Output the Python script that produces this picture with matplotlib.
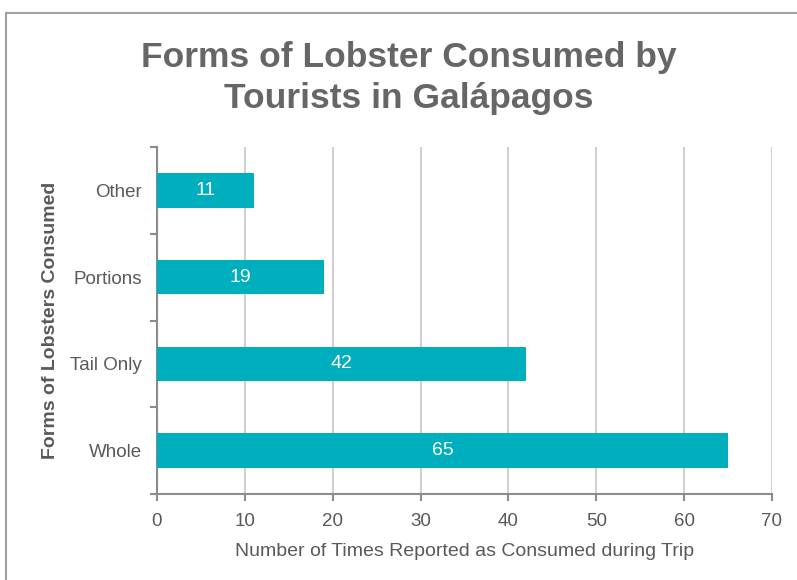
import matplotlib
matplotlib.use("Agg")
import matplotlib.pyplot as plt
from matplotlib.patches import Rectangle

plt.rcParams['font.family'] = ['Liberation Sans', 'DejaVu Sans']

categories = ["Whole", "Tail Only", "Portions", "Other"]
counts = [65, 42, 19, 11]
xticks = [0, 10, 20, 30, 40, 50, 60, 70]

title = "Forms of Lobster Consumed by\nTourists in Galápagos"
xlabel = "Number of Times Reported as Consumed during Trip"
ylabel = "Forms of Lobsters Consumed"

bar_color = "#00AFBE"
text_color = "#595959"
grid_color = "#D0D0D0"
axis_color = "#8C8C8C"

fig = plt.figure(figsize=(7.97, 5.80), dpi=100)
fig.patch.set_facecolor("white")

# outer chart frame
fig.patches.append(Rectangle((6 / 797, -0.05), 1.0, 1 - 13 / 580 + 0.05,
                             transform=fig.transFigure, fill=False,
                             edgecolor="#A0A0A0", linewidth=1.5))

ax = fig.add_axes([157 / 797, 1 - 494 / 580, (772 - 157) / 797, (494 - 147) / 580])

ypos = list(range(len(categories)))
bars = ax.barh(ypos, counts, height=0.4, color=bar_color, zorder=3)
for b, v in zip(bars, counts):
    ax.text(v / 2, b.get_y() + b.get_height() / 2, str(v), ha="center", va="center",
            color="white", fontsize=14, zorder=4)

ax.set_xlim(0, 70)
ax.set_ylim(-0.5, len(categories) - 0.5)
ax.set_xticks(xticks)
ax.set_xticklabels([str(t) for t in xticks])
ax.set_yticks(ypos)
ax.set_yticklabels(categories)
ax.set_yticks([i - 0.5 for i in range(len(categories) + 1)], minor=True)

ax.xaxis.grid(True, color=grid_color, linewidth=1.5, zorder=0)
ax.set_axisbelow(True)

for s in ["top", "right"]:
    ax.spines[s].set_visible(False)
for s in ["left", "bottom"]:
    ax.spines[s].set_color(axis_color)
    ax.spines[s].set_linewidth(1.5)

ax.tick_params(axis="x", colors=axis_color, labelcolor=text_color, labelsize=13.5,
               length=5, width=1.5, pad=9)
ax.tick_params(axis="y", which="major", length=0, labelcolor=text_color,
               labelsize=13.5, pad=11)
ax.tick_params(axis="y", which="minor", colors=axis_color, length=5, width=1.5)

ax.set_xlabel(xlabel, color=text_color, fontsize=14, labelpad=9)
ax.set_ylabel(ylabel, color=text_color, fontsize=14, fontweight="bold", labelpad=8)

fig.text(409 / 797, 1 - 78 / 580, title, ha="center", va="center",
         fontsize=25.5, fontweight="bold", color="#666666", linespacing=1.3)

fig.savefig("out.png", dpi=100)
